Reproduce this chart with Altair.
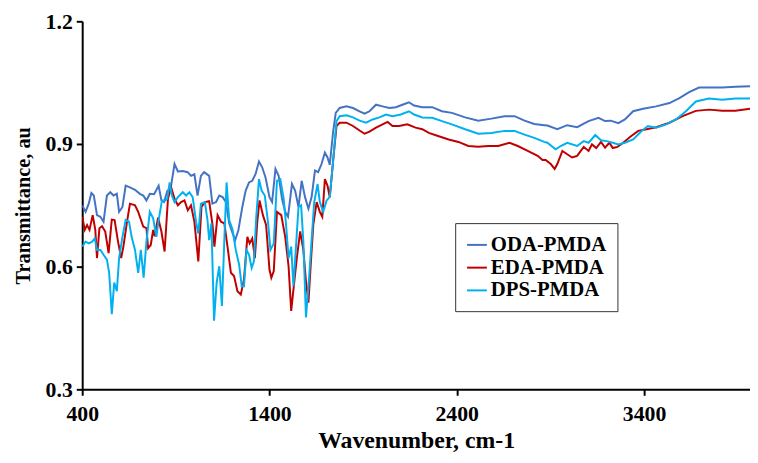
import altair as alt
import pandas as pd

# ---- data ----
oda_x = [400, 418, 435, 449, 462, 479, 497, 514, 532, 550, 567, 585, 597, 615, 632, 655, 682, 708, 726, 743,
         761, 784, 808, 823, 837, 855, 872, 893, 911, 937, 963, 981, 999, 1016, 1034, 1051, 1078, 1095,
         1115, 1132, 1150, 1167, 1185, 1203, 1217, 1234, 1255, 1273, 1291, 1308, 1326, 1344, 1361, 1379,
         1400, 1414, 1432, 1449, 1467, 1484, 1499, 1520, 1537, 1555, 1572, 1590, 1608, 1625, 1643, 1660,
         1678, 1696, 1710, 1722, 1740, 1754, 1775, 1811, 1846, 1881, 1908, 1934, 1969, 2004, 2040, 2075,
         2110, 2145, 2172, 2216, 2269, 2321, 2374, 2445, 2515, 2585, 2656, 2709, 2762, 2814, 2867, 2884,
         2937, 2990, 3043, 3104, 3157, 3192, 3222, 3263, 3298, 3342, 3395, 3465, 3536, 3589, 3641, 3694,
         3747, 3818, 3888, 3966]
oda_y = [0.750, 0.734, 0.754, 0.780, 0.774, 0.726, 0.722, 0.710, 0.774, 0.782, 0.774, 0.778, 0.734, 0.746,
         0.798, 0.794, 0.788, 0.778, 0.774, 0.762, 0.778, 0.777, 0.798, 0.762, 0.758, 0.786, 0.790, 0.851,
         0.833, 0.834, 0.831, 0.822, 0.826, 0.774, 0.822, 0.831, 0.822, 0.754, 0.758, 0.774, 0.770, 0.758,
         0.706, 0.682, 0.665, 0.689, 0.746, 0.786, 0.806, 0.810, 0.827, 0.857, 0.843, 0.818, 0.770, 0.758,
         0.839, 0.822, 0.766, 0.734, 0.722, 0.802, 0.786, 0.746, 0.810, 0.770, 0.742, 0.770, 0.835, 0.831,
         0.851, 0.879, 0.867, 0.849, 0.930, 0.976, 0.988, 0.992, 0.988, 0.980, 0.974, 0.980, 0.996, 0.992,
         0.988, 0.990, 0.996, 1.002, 0.994, 0.990, 0.990, 0.980, 0.976, 0.965, 0.957, 0.962, 0.968, 0.968,
         0.957, 0.949, 0.946, 0.945, 0.936, 0.946, 0.941, 0.956, 0.964, 0.956, 0.957, 0.951, 0.960, 0.980,
         0.986, 0.992, 1.000, 1.012, 1.027, 1.038, 1.038, 1.038, 1.040, 1.041]

eda_x = [400, 414, 426, 439, 456, 470, 479, 492, 506, 523, 541, 558, 573, 590, 608, 620, 638, 655, 682, 699,
         726, 743, 752, 766, 779, 787, 805, 823, 840, 858, 875, 893, 911, 928, 946, 964, 981, 999, 1020,
         1037, 1055, 1078, 1096, 1106, 1123, 1141, 1159, 1176, 1194, 1211, 1229, 1247, 1264, 1282, 1294,
         1308, 1322, 1335, 1347, 1365, 1382, 1400, 1410, 1423, 1440, 1463, 1484, 1502, 1516, 1528, 1546,
         1564, 1581, 1594, 1608, 1622, 1634, 1652, 1669, 1682, 1696, 1710, 1722, 1740, 1758, 1775, 1811,
         1846, 1881, 1908, 1934, 1969, 2004, 2031, 2057, 2092, 2136, 2180, 2216, 2251, 2304, 2357, 2409,
         2462, 2515, 2568, 2621, 2682, 2726, 2779, 2832, 2858, 2875, 2902, 2923, 2937, 2964, 2990, 3016,
         3043, 3078, 3104, 3122, 3145, 3170, 3192, 3215, 3233, 3258, 3289, 3325, 3369, 3413, 3465, 3536,
         3606, 3677, 3747, 3818, 3888, 3966]
eda_y = [0.722, 0.690, 0.702, 0.690, 0.726, 0.690, 0.621, 0.694, 0.699, 0.686, 0.633, 0.715, 0.714, 0.665,
         0.621, 0.649, 0.706, 0.754, 0.750, 0.734, 0.698, 0.694, 0.645, 0.653, 0.690, 0.674, 0.720, 0.686,
         0.637, 0.766, 0.794, 0.766, 0.750, 0.758, 0.762, 0.738, 0.750, 0.710, 0.613, 0.746, 0.758, 0.760,
         0.702, 0.649, 0.726, 0.710, 0.706, 0.649, 0.585, 0.577, 0.540, 0.532, 0.569, 0.673, 0.657, 0.669,
         0.621, 0.710, 0.762, 0.726, 0.702, 0.593, 0.573, 0.589, 0.734, 0.726, 0.673, 0.601, 0.492, 0.544,
         0.621, 0.686, 0.641, 0.569, 0.512, 0.617, 0.702, 0.758, 0.734, 0.722, 0.814, 0.798, 0.770, 0.859,
         0.944, 0.952, 0.952, 0.944, 0.933, 0.925, 0.930, 0.940, 0.948, 0.954, 0.944, 0.944, 0.948, 0.940,
         0.936, 0.927, 0.919, 0.911, 0.905, 0.895, 0.893, 0.895, 0.895, 0.903, 0.895, 0.883, 0.871, 0.861,
         0.861, 0.851, 0.839, 0.851, 0.883, 0.875, 0.867, 0.871, 0.893, 0.883, 0.899, 0.890, 0.905, 0.891,
         0.903, 0.890, 0.893, 0.903, 0.917, 0.932, 0.936, 0.941, 0.952, 0.968, 0.981, 0.984, 0.981, 0.981,
         0.986]

dps_x = [400, 418, 435, 453, 467, 479, 497, 514, 532, 544, 558, 571, 585, 597, 615, 632, 650, 664, 682, 699,
         713, 728, 743, 761, 779, 796, 808, 826, 844, 854, 867, 879, 893, 911, 937, 955, 972, 990, 1008,
         1020, 1034, 1055, 1069, 1078, 1090, 1104, 1118, 1132, 1146, 1159, 1171, 1185, 1203, 1220, 1238,
         1252, 1264, 1277, 1291, 1305, 1317, 1329, 1344, 1358, 1375, 1393, 1405, 1423, 1440, 1458, 1476,
         1488, 1502, 1516, 1528, 1541, 1555, 1569, 1581, 1595, 1611, 1625, 1639, 1657, 1669, 1687, 1705,
         1722, 1740, 1758, 1775, 1811, 1846, 1881, 1916, 1951, 1987, 2022, 2057, 2101, 2145, 2172, 2216,
         2269, 2321, 2374, 2445, 2515, 2585, 2656, 2709, 2762, 2814, 2867, 2884, 2928, 2955, 2990, 3043,
         3078, 3104, 3140, 3170, 3201, 3233, 3263, 3298, 3342, 3386, 3421, 3465, 3518, 3571, 3624, 3677,
         3747, 3818, 3888, 3966]
dps_y = [0.649, 0.661, 0.657, 0.661, 0.669, 0.641, 0.641, 0.629, 0.617, 0.585, 0.484, 0.561, 0.540, 0.621,
         0.673, 0.714, 0.710, 0.673, 0.641, 0.585, 0.641, 0.573, 0.661, 0.734, 0.718, 0.673, 0.714, 0.762,
         0.762, 0.766, 0.806, 0.774, 0.758, 0.770, 0.782, 0.774, 0.782, 0.770, 0.710, 0.681, 0.754, 0.758,
         0.714, 0.665, 0.706, 0.468, 0.561, 0.601, 0.504, 0.665, 0.806, 0.714, 0.690, 0.641, 0.605, 0.552,
         0.552, 0.641, 0.629, 0.597, 0.613, 0.718, 0.814, 0.786, 0.774, 0.706, 0.641, 0.657, 0.810, 0.814,
         0.766, 0.706, 0.621, 0.649, 0.552, 0.645, 0.746, 0.750, 0.661, 0.476, 0.569, 0.665, 0.758, 0.802,
         0.758, 0.734, 0.762, 0.770, 0.859, 0.956, 0.968, 0.970, 0.965, 0.957, 0.952, 0.960, 0.965, 0.972,
         0.968, 0.972, 0.980, 0.972, 0.965, 0.964, 0.956, 0.948, 0.936, 0.925, 0.927, 0.932, 0.932, 0.923,
         0.915, 0.905, 0.903, 0.887, 0.895, 0.903, 0.895, 0.907, 0.903, 0.922, 0.909, 0.907, 0.903, 0.899,
         0.903, 0.911, 0.931, 0.944, 0.940, 0.948, 0.960, 0.980, 1.004, 1.011, 1.008, 1.011, 1.011]

series_names = ["ODA-PMDA", "EDA-PMDA", "DPS-PMDA"]
series_colors = ["#4472C4", "#C00000", "#00B0F0"]
x_ticks = [400, 1400, 2400, 3400]
y_ticks = [0.3, 0.6, 0.9, 1.2]

frames = []
for i, (name, xs, ys) in enumerate(zip(series_names, [oda_x, eda_x, dps_x], [oda_y, eda_y, dps_y])):
    frames.append(pd.DataFrame({"wn": xs, "t": ys, "series": name, "ord": i}))
df = pd.concat(frames, ignore_index=True)

FONT = "Liberation Serif"

chart = alt.Chart(df).mark_line(strokeWidth=2, clip=True).encode(
    x=alt.X("wn:Q", scale=alt.Scale(domain=[400, 3966], nice=False, zero=False),
            axis=alt.Axis(values=x_ticks, title="Wavenumber, cm-1", format="d", grid=False,
                          labelFlush=False, labelFontSize=22, titleFontSize=24,
                          labelPadding=9, titlePadding=4)),
    y=alt.Y("t:Q", scale=alt.Scale(domain=[0.3, 1.2], nice=False, zero=False),
            axis=alt.Axis(values=y_ticks, title="Transmittance, au", format=".1f", grid=False,
                          labelFlush=False, labelFontSize=22, titleFontSize=20.5,
                          labelPadding=4, titlePadding=12)),
    color=alt.Color("series:N", scale=alt.Scale(domain=series_names, range=series_colors),
                    legend=alt.Legend(title=None, orient="none", legendX=377, legendY=204,
                                      symbolType="stroke", symbolSize=400, symbolStrokeWidth=2,
                                      labelFontSize=21, labelFont=FONT, labelFontWeight="bold",
                                      labelColor="black", padding=11, rowPadding=2, labelOffset=3,
                                      fillColor="white", strokeColor="#333333",
                                      labelLimit=300)),
    detail="series:N",
    order=alt.Order("wn:Q"),
).properties(
    width=675, height=372,
    autosize=alt.AutoSizeParams(type="none"),
    padding={"left": 75, "top": 11, "right": 0, "bottom": 70},
).configure_view(stroke=None).configure_axis(
    labelFont=FONT, titleFont=FONT, labelFontWeight="bold", titleFontWeight="bold",
    labelColor="black", titleColor="black", domainColor="black", tickColor="black",
    domainWidth=2, tickWidth=2, tickSize=6,
)

chart.save("out.html", embed_options={"renderer": "svg", "actions": False})
